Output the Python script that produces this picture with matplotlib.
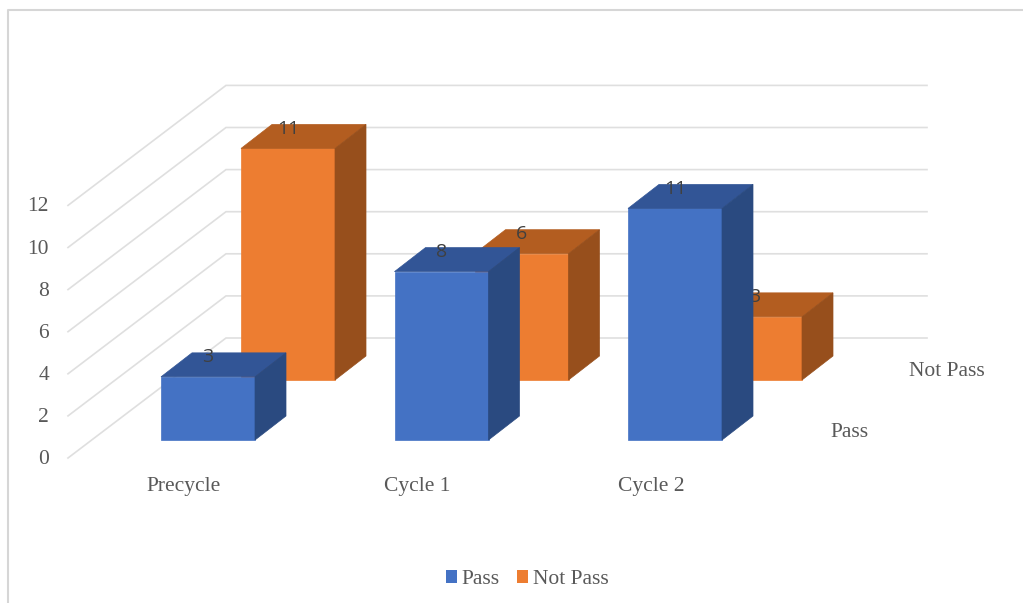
import matplotlib
matplotlib.use('Agg')
import matplotlib.pyplot as plt
from matplotlib.patches import Polygon, Patch

plt.rcParams['font.family'] = ['Liberation Serif', 'DejaVu Serif']

# == Data == #
categories = ['Precycle', 'Cycle 1', 'Cycle 2']
series_names = ['Pass', 'Not Pass']
pass_values = [3, 8, 11]
not_pass_values = [11, 6, 3]
y_ticks = [0, 2, 4, 6, 8, 10, 12]

# == Oblique projection, everything below is in image pixels == #
unit = 21.05        # height of one value unit
front_x, front_y = 68, 458     # wall corner at value 0, front edge
back_x, back_y = 226, 338      # wall corner at value 0, back edge
wall_right = 927
row_base_x = [161, 241]        # left edge of the first bar in each row
row_base_y = [440, 380]        # bar bottom in each row
cat_step = 233.5
bar_w = 94
depth_x, depth_y = 31, -24

face_colors = [('#4472C4', '#325596', '#2A4A80'),
               ('#ED7D31', '#B35D20', '#974F1C')]
text_grey = '#595959'
line_grey = '#DFDFDF'

fig = plt.figure(figsize=(10.23, 6.03), dpi=100)
ax = fig.add_axes([0, 0, 1, 1])
ax.set_xlim(0, 1023)
ax.set_ylim(603, 0)
ax.axis('off')

# chart frame (only top and left edges show)
ax.plot([1023, 8, 8], [10, 10, 603], color='#D6D6D6', lw=1.5, zorder=1)

# walls and value labels
for v in y_ticks:
    yf = front_y - v * unit
    yb = back_y - v * unit
    ax.plot([front_x, back_x, wall_right], [yf, yb, yb], color=line_grey, lw=1.2,
            zorder=1, solid_joinstyle='miter')
    ax.text(49, yf + 1.5, str(v), ha='right', va='center', fontsize=15.5, color=text_grey)


def draw_bar(cat, row, value):
    front, top, side = face_colors[row]
    x0 = row_base_x[row] + cat * cat_step
    x1 = x0 + bar_w
    y0 = row_base_y[row]
    y1 = y0 - value * unit
    z = 3 + (1 - row) * 2
    ax.add_patch(Polygon([(x0, y0), (x1, y0), (x1, y1), (x0, y1)], fc=front, ec=front, lw=0.5, zorder=z))
    ax.add_patch(Polygon([(x0, y1), (x1, y1), (x1 + depth_x, y1 + depth_y), (x0 + depth_x, y1 + depth_y)],
                         fc=top, ec=top, lw=0.5, zorder=z))
    ax.add_patch(Polygon([(x1, y0), (x1 + depth_x, y0 + depth_y), (x1 + depth_x, y1 + depth_y), (x1, y1)],
                         fc=side, ec=side, lw=0.5, zorder=z))
    ax.text((x0 + x1) / 2, y1 - 19.5, str(value), ha='center', va='center', fontsize=14,
            family='Open Sans', color='#404040', zorder=z + 1)


for row, values in enumerate([pass_values, not_pass_values]):
    for cat, value in enumerate(values):
        draw_bar(cat, row, value)

# category and series labels
for cat, name in enumerate(categories):
    ax.text(row_base_x[0] + cat * cat_step + 23, 486.5, name, ha='center', va='center',
            fontsize=15.5, color=text_grey)
ax.text(830, 432.5, series_names[0], ha='left', va='center', fontsize=15.5, color=text_grey)
ax.text(909, 371.5, series_names[1], ha='left', va='center', fontsize=15.5, color=text_grey)

handles = [Patch(fc=face_colors[i][0], label=series_names[i]) for i in range(2)]
ax.legend(handles=handles, ncol=2, loc='center', bbox_to_anchor=(527 / 1023, 1 - 579.5 / 603),
          frameon=False, fontsize=15.5, labelcolor=text_grey, handlelength=0.52, handleheight=0.52,
          handletextpad=0.22, columnspacing=0.8)

fig.savefig('out.png', dpi=100)
